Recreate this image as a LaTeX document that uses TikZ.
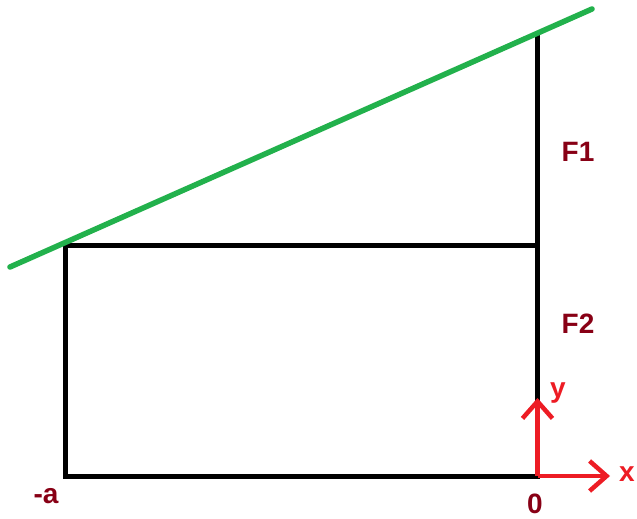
\documentclass[tikz,border=0pt]{standalone}
\usepackage{fontspec}
\setmainfont{Liberation Sans}
\usetikzlibrary{arrows.meta}
\definecolor{paintgreen}{HTML}{22B14C}
\definecolor{paintred}{HTML}{ED1C24}
\definecolor{paintdark}{HTML}{880015}
\tikzset{
  blk/.style={line width=5pt, black, line cap=rect},
  grn/.style={line width=5.5pt, paintgreen, line cap=round},
  axis/.style={line width=4.5pt, paintred, -{Straight Barb[length=17pt,width=30pt,line width=4.5pt]}},
  lbl/.style={text=paintdark, font=\fontsize{28}{30}\selectfont\bfseries, inner sep=0pt},
  axlbl/.style={text=paintred, font=\fontsize{28}{30}\selectfont\bfseries, inner sep=0pt},
}
\begin{document}
\begin{tikzpicture}[x=1pt,y=-1pt]
\useasboundingbox (0,0) rectangle (637,519);
\coordinate (BL) at (65.5,476);
\coordinate (TL) at (65.5,245.5);
\coordinate (TR) at (537.5,245.5);
\coordinate (O) at (537.5,476);
\coordinate (Top) at (537.5,36);
\coordinate (G1) at (10,267);
\coordinate (G2) at (592,9);
\coordinate (Yt) at (537.5,398);
\coordinate (Xt) at (610,476);
\draw[blk] (O) -- (BL) -- (TL) -- (TR);
\draw[blk] (O) -- (Top);
\draw[grn] (G1) -- (G2);
\draw[axis] (O) -- (Yt);
\draw[axis] (O) -- (Xt);
\node[lbl] (F1) at (578,152) {F1};
\node[lbl] (F2) at (578,324) {F2};
\node[lbl] (zero) at (535,504) {0};
\node[lbl] (ma) at (46,496) {-a};
\node[axlbl] (ylab) at (558,393) {y};
\node[axlbl] (xlab) at (627,474) {x};
\end{tikzpicture}
\end{document}
